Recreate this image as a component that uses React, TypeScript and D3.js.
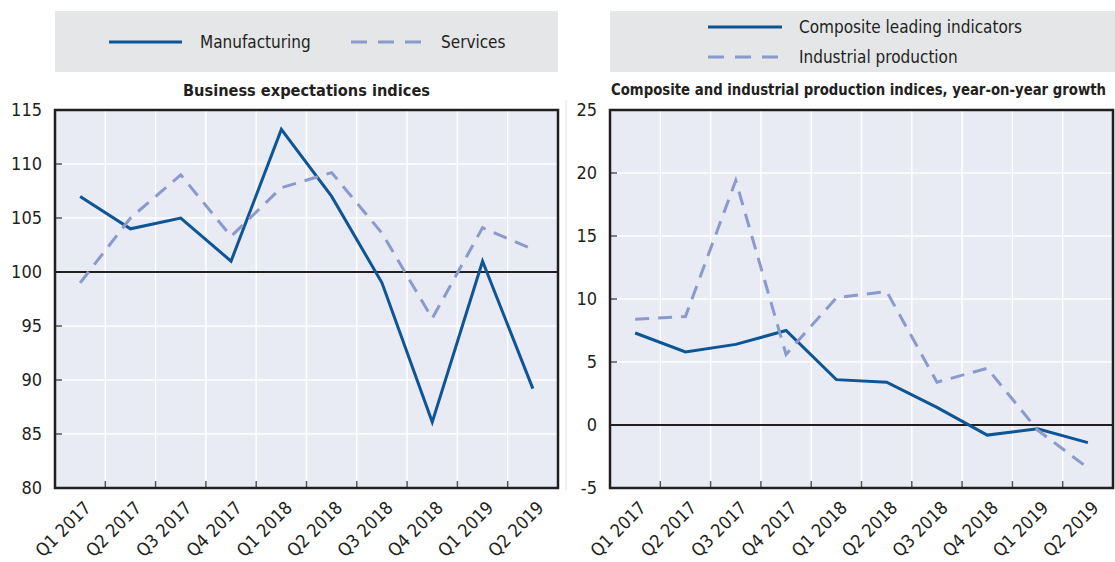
import React from "react";
import * as d3 from "d3";

const quarters = ["Q1 2017", "Q2 2017", "Q3 2017", "Q4 2017", "Q1 2018", "Q2 2018", "Q3 2018", "Q4 2018", "Q1 2019", "Q2 2019"];

// left panel: business expectations indices
const manufacturing = [107, 104, 105, 101, 113.2, 107, 99, 86.1, 101, 89.2];
const services = [99, 105, 109, 103.3, 107.8, 109.2, 103.6, 95.7, 104.1, 102.1];
const leftTicks = [80, 85, 90, 95, 100, 105, 110, 115];

// right panel: year-on-year growth
const compositeLeading = [7.3, 5.8, 6.4, 7.5, 3.6, 3.4, 1.4, -0.8, -0.3, -1.4];
const industrialProduction = [8.4, 8.6, 19.4, 5.6, 10.1, 10.6, 3.4, 4.5, -0.4, -3.4];
const rightTicks = [-5, 0, 5, 10, 15, 20, 25];

const FONT = "'Liberation Sans Narrow', 'DejaVu Sans Condensed', sans-serif";
const DARK = "#0d5594";
const LIGHT = "#8a9acb";
const TEXT = "#231f20";
const TOP = 110;
const BOTTOM = 488;

type Series = { values: number[]; color: string; dash?: string };

function Panel({ left, right, ticks, refValue, series }: { left: number; right: number; ticks: number[]; refValue: number; series: Series[] }) {
  const x = d3.scaleBand<string>().domain(quarters).range([left, right]);
  const y = d3.scaleLinear().domain([ticks[0], ticks[ticks.length - 1]]).range([BOTTOM, TOP]);
  const cx = (q: string) => (x(q) as number) + x.bandwidth() / 2;
  const line = d3
    .line<number>()
    .x((_, i) => cx(quarters[i]))
    .y((d) => y(d));
  const bounds = quarters.slice(1).map((q) => x(q) as number);

  return (
    <g>
      <rect x={left} y={TOP} width={right - left} height={BOTTOM - TOP} fill="#e8eaf4" />
      {ticks.map((t) => (
        <line key={"h" + t} x1={left} x2={right} y1={y(t)} y2={y(t)} stroke="#fff" strokeWidth={1.5} />
      ))}
      {bounds.map((b, i) => (
        <line key={"v" + i} x1={b} x2={b} y1={TOP} y2={BOTTOM} stroke="#fff" strokeWidth={1.5} />
      ))}
      {bounds.map((b, i) => (
        <line key={"bt" + i} x1={b} x2={b} y1={BOTTOM} y2={BOTTOM - 7} stroke="#555" strokeWidth={1.5} />
      ))}
      {ticks.map((t) => (
        <line key={"lt" + t} x1={left} x2={left + 7} y1={y(t)} y2={y(t)} stroke="#555" strokeWidth={1.5} />
      ))}
      <line x1={left} x2={right} y1={y(refValue)} y2={y(refValue)} stroke={TEXT} strokeWidth={1.8} />
      {series.map((s, i) => (
        <path key={"s" + i} d={line(s.values) || ""} fill="none" stroke={s.color} strokeWidth={3} strokeDasharray={s.dash} strokeLinejoin="miter" />
      ))}
      <rect x={left} y={TOP} width={right - left} height={BOTTOM - TOP} fill="none" stroke={TEXT} strokeWidth={2.5} />
      {ticks.map((t) => (
        <text key={"yl" + t} x={left - 13} y={y(t)} dy="0.35em" textAnchor="end" fontSize={18} fill={TEXT}>
          {t}
        </text>
      ))}
      {quarters.map((q) => (
        <text key={q} transform={`translate(${cx(q) + 12},${BOTTOM + 21}) rotate(-45)`} textAnchor="end" fontSize={18} fill={TEXT}>
          {q}
        </text>
      ))}
    </g>
  );
}

export default function App() {
  return (
    <svg width={1115} height={562} style={{ position: "absolute", left: 0, top: 0, fontFamily: FONT }}>
      <rect width={1115} height={562} fill="#fff" />
      <line x1={566} x2={566} y1={100} y2={490} stroke="#e2e2e2" strokeWidth={1} />

      {/* left legend */}
      <rect x={55} y={11} width={503} height={61} fill="#e5e6e8" />
      <line x1={109} x2={182} y1={42} y2={42} stroke={DARK} strokeWidth={3} />
      <text x={200} y={42} dy="0.35em" fontSize={17} fill={TEXT}>Manufacturing</text>
      <line x1={351} x2={423} y1={42} y2={42} stroke={LIGHT} strokeWidth={3} strokeDasharray="16,11" />
      <text x={441} y={42} dy="0.35em" fontSize={17} fill={TEXT}>Services</text>

      {/* right legend */}
      <rect x={610} y={11} width={505} height={61} fill="#e5e6e8" />
      <line x1={708} x2={782} y1={27} y2={27} stroke={DARK} strokeWidth={3} />
      <text x={799} y={27} dy="0.35em" fontSize={17} fill={TEXT}>Composite leading indicators</text>
      <line x1={708} x2={782} y1={57} y2={57} stroke={LIGHT} strokeWidth={3} strokeDasharray="16,11" />
      <text x={799} y={57} dy="0.35em" fontSize={17} fill={TEXT}>Industrial production</text>

      <text x={183} y={90} dy="0.35em" textLength={247} lengthAdjust="spacingAndGlyphs" fontSize={16} fontWeight="bold" fill={TEXT}>
        Business expectations indices
      </text>
      <text x={611} y={90} dy="0.35em" textLength={495} lengthAdjust="spacingAndGlyphs" fontSize={15} fontWeight="bold" fill={TEXT}>
        Composite and industrial production indices, year-on-year growth
      </text>

      <Panel left={55} right={558} ticks={leftTicks} refValue={100} series={[
        { values: manufacturing, color: DARK },
        { values: services, color: LIGHT, dash: "14,9" },
      ]} />
      <Panel left={610} right={1113} ticks={rightTicks} refValue={0} series={[
        { values: compositeLeading, color: DARK },
        { values: industrialProduction, color: LIGHT, dash: "14,9" },
      ]} />
    </svg>
  );
}
